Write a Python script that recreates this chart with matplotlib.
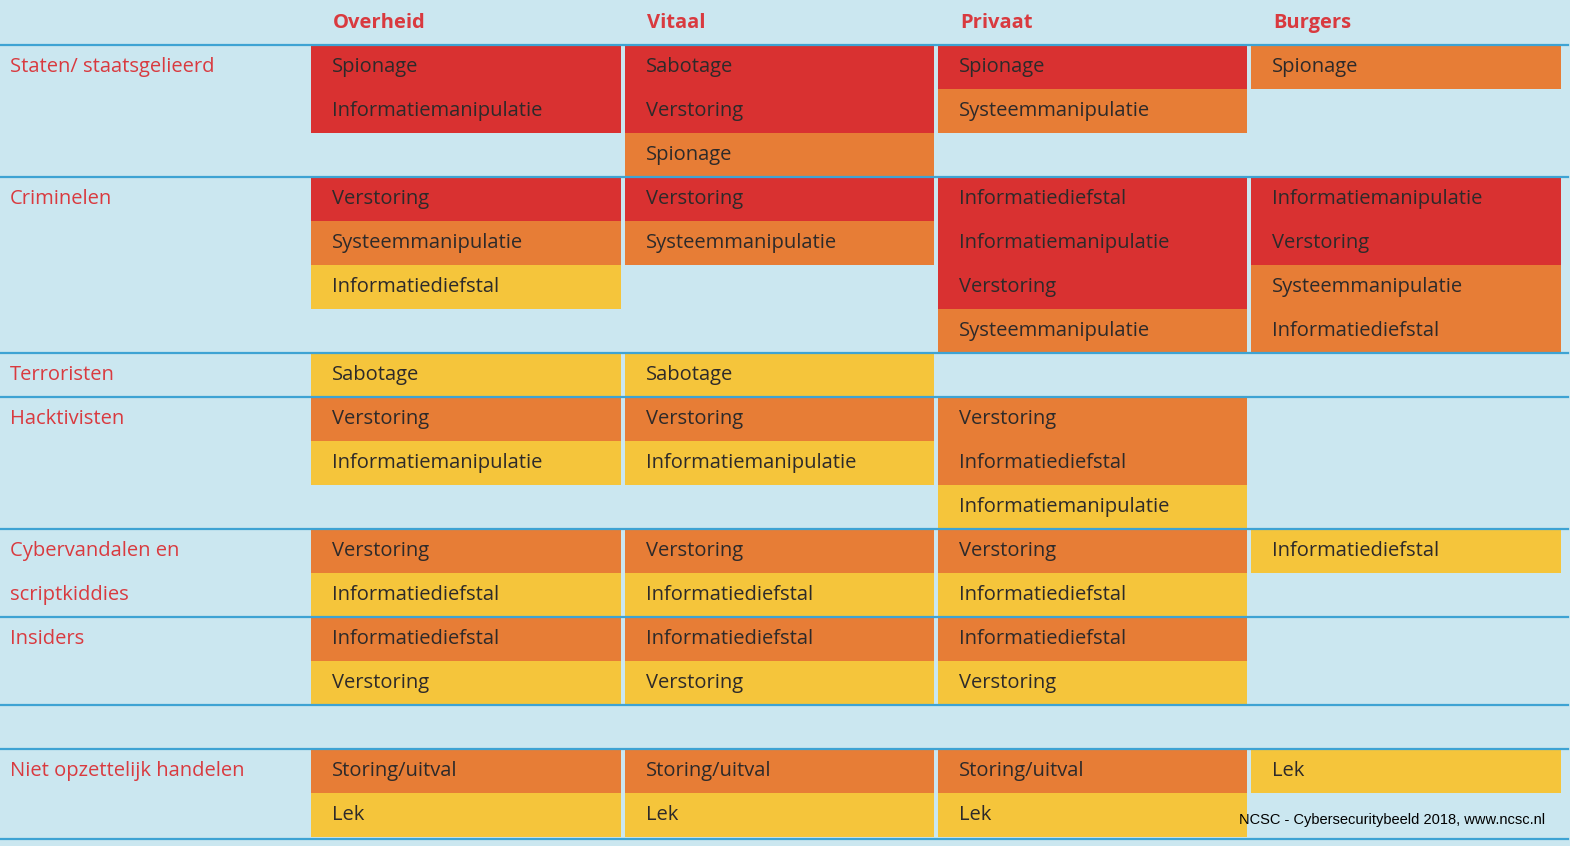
import matplotlib

matplotlib.use("Agg")
import matplotlib.pyplot as plt
from matplotlib.patches import Rectangle

plt.rcParams["font.family"] = ["Open Sans", "DejaVu Sans"]

columns = ["Overheid", "Vitaal", "Privaat", "Burgers"]
actors = ["Staten/ staatsgelieerd", "Criminelen", "Terroristen", "Hacktivisten",
          "Cybervandalen en\nscriptkiddies", "Insiders", "", "Niet opzettelijk handelen"]
group_slots = [3, 4, 1, 3, 2, 2, 1, 2]

# level: 3 = red (high), 2 = orange (medium), 1 = yellow (low)
staten = [[("Spionage", 3), ("Informatiemanipulatie", 3)],
          [("Sabotage", 3), ("Verstoring", 3), ("Spionage", 2)],
          [("Spionage", 3), ("Systeemmanipulatie", 2)],
          [("Spionage", 2)]]
criminelen = [[("Verstoring", 3), ("Systeemmanipulatie", 2), ("Informatiediefstal", 1)],
              [("Verstoring", 3), ("Systeemmanipulatie", 2)],
              [("Informatiediefstal", 3), ("Informatiemanipulatie", 3), ("Verstoring", 3), ("Systeemmanipulatie", 2)],
              [("Informatiemanipulatie", 3), ("Verstoring", 3), ("Systeemmanipulatie", 2), ("Informatiediefstal", 2)]]
terroristen = [[("Sabotage", 1)], [("Sabotage", 1)], [], []]
hacktivisten = [[("Verstoring", 2), ("Informatiemanipulatie", 1)],
                [("Verstoring", 2), ("Informatiemanipulatie", 1)],
                [("Verstoring", 2), ("Informatiediefstal", 2), ("Informatiemanipulatie", 1)],
                []]
vandalen = [[("Verstoring", 2), ("Informatiediefstal", 1)],
            [("Verstoring", 2), ("Informatiediefstal", 1)],
            [("Verstoring", 2), ("Informatiediefstal", 1)],
            [("Informatiediefstal", 1)]]
insiders = [[("Informatiediefstal", 2), ("Verstoring", 1)],
            [("Informatiediefstal", 2), ("Verstoring", 1)],
            [("Informatiediefstal", 2), ("Verstoring", 1)],
            []]
leeg = [[], [], [], []]
niet_opzettelijk = [[("Storing/uitval", 2), ("Lek", 1)],
                    [("Storing/uitval", 2), ("Lek", 1)],
                    [("Storing/uitval", 2), ("Lek", 1)],
                    [("Lek", 1)]]
groups = [staten, criminelen, terroristen, hacktivisten, vandalen, insiders, leeg, niet_opzettelijk]

level_colors = {3: "#d93131", 2: "#e77d36", 1: "#f5c53b"}
background = "#cbe7f0"
line_blue = "#3ea3d3"
label_red = "#d93a3f"
text_dark = "#2d2a2a"

W, H = 1570, 846
col_left = [311, 625, 938, 1251]
col_width = 310
top = 45
slot = 44

fig = plt.figure(figsize=(W / 100, H / 100), dpi=100)
fig.patch.set_facecolor(background)
ax = fig.add_axes([0, 0, 1, 1])
ax.set_xlim(0, W)
ax.set_ylim(H, 0)
ax.axis("off")

for name, x in zip(columns, col_left):
    ax.text(x + 22, 23, name, color=label_red, fontsize=14.5, fontweight="bold", va="center")

y = top
for actor, n, group in zip(actors, group_slots, groups):
    for x, cells in zip(col_left, group):
        for i, (label, level) in enumerate(cells):
            y0 = y + i * slot
            ax.add_patch(Rectangle((x, y0), col_width, slot, facecolor=level_colors[level],
                                   edgecolor="none", zorder=1))
            ax.text(x + 21, y0 + slot / 2, label, color=text_dark, fontsize=14.5, va="center", zorder=3)
    for j, line in enumerate(actor.split("\n")):
        ax.text(10, y + slot / 2 + j * slot, line, color=label_red, fontsize=14.5, va="center")
    ax.plot([0, 1568], [y, y], color=line_blue, linewidth=1.6, zorder=2)
    y += n * slot
ax.plot([0, 1568], [y + 2, y + 2], color=line_blue, linewidth=1.6, zorder=2)

# column gaps
for x in col_left[1:]:
    ax.add_patch(Rectangle((x - 4, top), 4, y - top, facecolor=background, edgecolor="none", zorder=1.5))

ax.text(1545, 820, "NCSC - Cybersecuritybeeld 2018, www.ncsc.nl", fontsize=10.5,
        family=["Liberation Sans", "DejaVu Sans"], ha="right", va="center", color="black", zorder=4)

fig.savefig("out.png", facecolor=background)
